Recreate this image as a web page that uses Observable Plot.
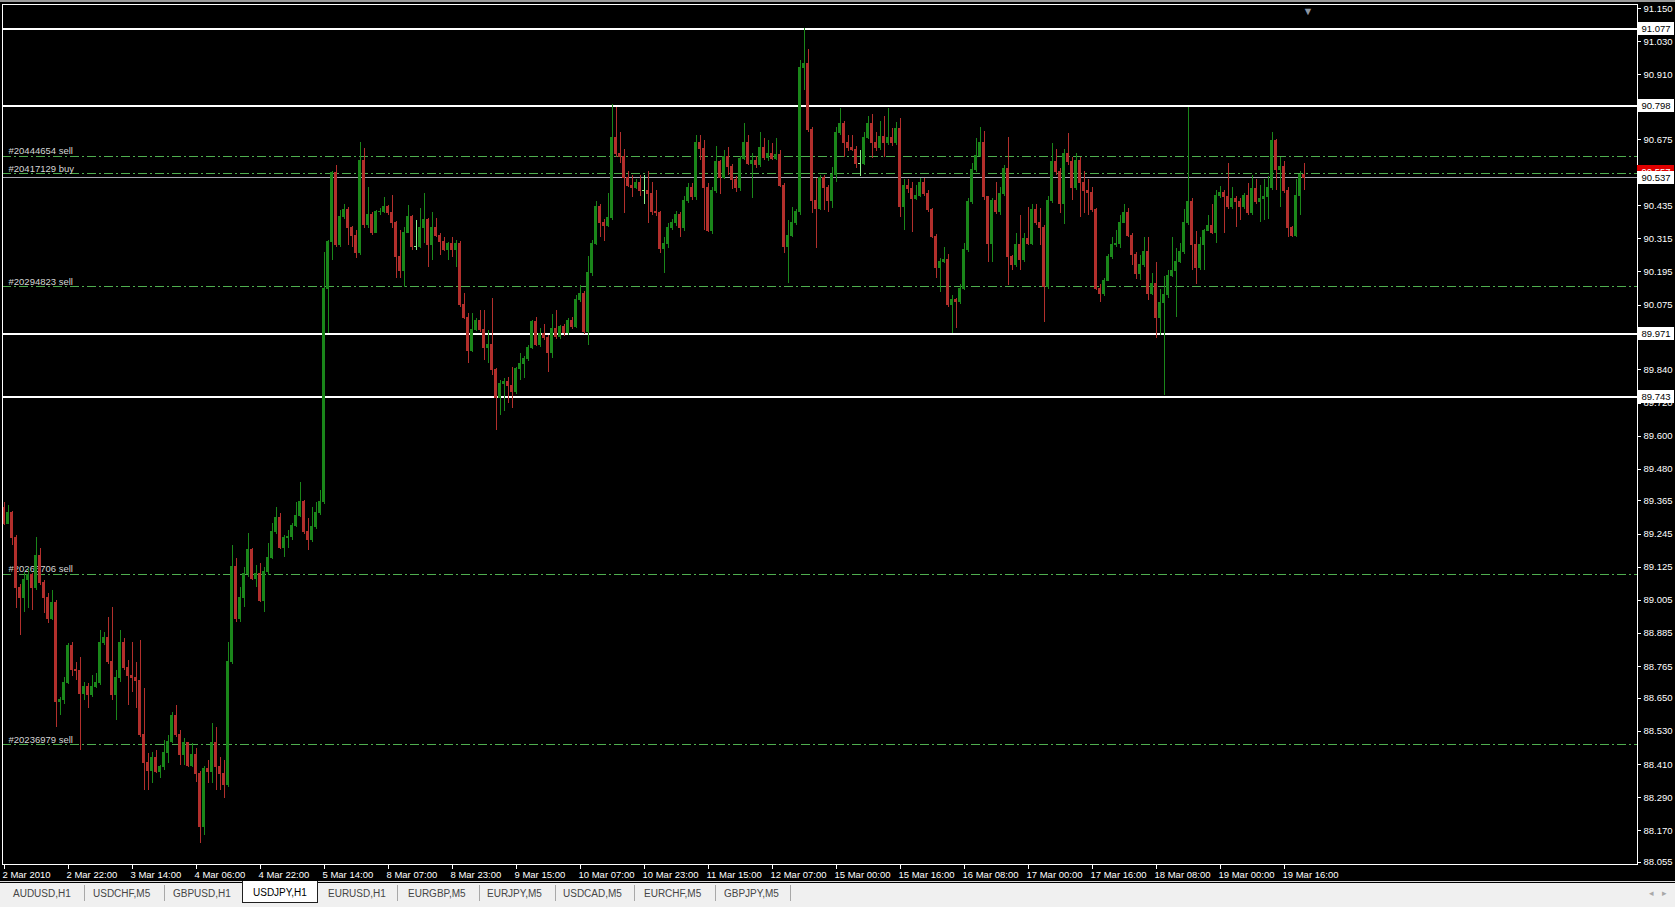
<!DOCTYPE html>
<html>
<head>
<meta charset="utf-8">
<title>USDJPY,H1</title>
<script src="https://cdn.jsdelivr.net/npm/d3@7"></script>
<script src="https://cdn.jsdelivr.net/npm/@observablehq/plot@0.6"></script>
<style>
  html, body { margin: 0; padding: 0; background: #000; width: 1675px; height: 907px; overflow: hidden; }
  #wrap { position: relative; width: 1675px; height: 907px; font-family: "Liberation Sans", Arial, sans-serif; }
  #edge { position: absolute; left: 0; top: 0; width: 1675px; height: 2px; background: #9a9a9a; z-index: 2; }
  #chart { position: absolute; left: 0; top: 0; }
  #chart svg line, #chart svg rect { shape-rendering: crispEdges; }
  #strip { position: absolute; left: 0; top: 881px; width: 1675px; height: 1px; background: #d8d8d8; }
  #tabs { position: absolute; left: 0; top: 883px; width: 1675px; height: 24px; background: #f0f0f0; }
  .tab { position: absolute; top: 0; height: 22px; line-height: 21px; font-size: 10px; color: #464646; white-space: nowrap; }
  .tab.active { top: -2px; background: #fff; color: #000; border: 1px solid #202020; border-top: none; height: 21px; line-height: 23px; padding: 0 10px; box-sizing: content-box; }
  .sep { position: absolute; top: 2px; width: 1px; height: 16px; background: #a8a8a8; }
  .arrow { position: absolute; top: 0; line-height: 21px; font-size: 9px; color: #a8a8a8; }
</style>
</head>
<body>
<div id="wrap">
  <div id="chart"></div>
  <div id="edge"></div>
  <div id="strip"></div>
  <div id="tabs"></div>
</div>
<script>
// USDJPY hourly bars, 2 Mar 2010 06:00 to 19 Mar 2010 21:00
const opens = [
  89.341,89.283,89.323,89.229,89.051,89.012,89.080,89.095,89.051,89.167,
  89.066,89.012,88.939,88.997,88.635,88.642,88.707,88.841,88.754,88.748,
  88.667,88.689,88.660,88.689,88.707,88.852,88.870,88.780,88.660,88.722,
  88.852,88.758,88.732,88.722,88.714,88.515,88.414,88.388,88.435,88.381,
  88.399,88.453,88.490,88.587,88.515,88.443,88.486,88.406,88.443,88.377,
  88.182,88.395,88.381,88.486,88.399,88.377,88.334,88.780,89.124,88.939,
  89.015,89.102,89.186,89.084,89.102,89.004,89.106,89.160,89.251,89.305,
  89.196,89.229,89.233,89.276,89.312,89.360,89.251,89.222,89.269,89.323,
  89.360,90.135,90.302,90.552,90.291,90.393,90.421,90.353,90.327,90.262,
  90.599,90.364,90.400,90.338,90.411,90.414,90.429,90.407,90.371,90.251,
  90.200,90.338,90.393,90.286,90.286,90.353,90.382,90.291,90.353,90.327,
  90.302,90.276,90.298,90.276,90.298,90.074,90.030,89.910,89.983,90.019,
  89.983,89.921,89.929,89.838,89.737,89.790,89.795,89.780,89.760,89.842,
  89.860,89.878,89.921,90.012,89.929,89.972,89.955,89.900,89.990,89.960,
  89.995,89.975,90.019,89.995,90.092,90.117,89.976,90.190,90.298,90.432,
  90.374,90.360,90.389,90.682,90.624,90.610,90.534,90.508,90.501,90.516,
  90.490,90.490,90.479,90.411,90.407,90.280,90.295,90.356,90.371,90.400,
  90.353,90.454,90.501,90.465,90.661,90.640,90.501,90.345,90.490,90.592,
  90.537,90.610,90.574,90.527,90.498,90.606,90.661,90.588,90.599,90.581,
  90.643,90.607,90.624,90.605,90.620,90.508,90.284,90.327,90.371,90.411,
  90.933,90.950,90.708,90.454,90.425,90.534,90.501,90.454,90.545,90.700,
  90.733,90.661,90.646,90.636,90.588,90.588,90.682,90.733,90.661,90.643,
  90.686,90.664,90.682,90.664,90.715,90.429,90.508,90.494,90.461,90.472,
  90.516,90.479,90.418,90.320,90.211,90.230,90.240,90.074,90.092,90.085,
  90.135,90.273,90.447,90.563,90.617,90.661,90.465,90.298,90.454,90.411,
  90.479,90.570,90.248,90.219,90.291,90.237,90.316,90.298,90.418,90.371,
  90.356,90.139,90.454,90.592,90.556,90.443,90.624,90.592,90.498,90.599,
  90.519,90.490,90.480,90.418,90.135,90.117,90.164,90.248,90.291,90.298,
  90.374,90.407,90.327,90.255,90.186,90.219,90.269,90.117,90.150,90.030,
  90.081,90.110,90.182,90.200,90.230,90.266,90.374,90.447,90.291,90.208,
  90.291,90.345,90.360,90.338,90.472,90.480,90.465,90.429,90.461,90.447,
  90.429,90.472,90.407,90.494,90.447,90.458,90.465,90.501,90.668,90.563,
  90.577,90.490,90.356,90.327,90.472,90.545
];
const highs = [
  89.360,89.349,89.327,89.240,89.062,89.106,89.120,89.102,89.233,89.193,
  89.077,89.030,89.041,89.004,88.653,88.725,88.848,88.852,88.780,88.798,
  88.707,88.703,88.732,88.740,88.896,88.888,88.943,88.979,88.751,88.896,
  88.867,88.787,88.852,88.780,88.859,88.685,88.450,88.453,88.461,88.406,
  88.497,88.515,88.598,88.624,88.533,88.504,88.490,88.486,88.468,88.385,
  88.403,88.425,88.558,88.544,88.435,88.425,88.852,89.204,89.157,89.051,
  89.124,89.247,89.193,89.131,89.138,89.124,89.211,89.283,89.341,89.320,
  89.240,89.258,89.283,89.360,89.432,89.367,89.301,89.341,89.360,89.403,
  90.266,90.309,90.560,90.581,90.418,90.440,90.430,90.360,90.345,90.664,
  90.643,90.501,90.411,90.418,90.425,90.465,90.436,90.472,90.378,90.345,
  90.356,90.436,90.400,90.382,90.425,90.479,90.389,90.411,90.389,90.335,
  90.320,90.302,90.320,90.309,90.305,90.117,90.045,90.045,90.026,90.055,
  90.055,89.983,90.099,89.845,89.800,89.810,89.812,89.850,89.850,89.900,
  89.890,89.930,90.020,90.030,89.990,90.005,89.965,90.040,90.055,90.000,
  90.005,90.025,90.030,90.110,90.145,90.125,90.250,90.310,90.450,90.440,
  90.385,90.480,90.802,90.790,90.700,90.640,90.560,90.545,90.530,90.545,
  90.545,90.560,90.520,90.490,90.415,90.320,90.370,90.385,90.415,90.410,
  90.470,90.515,90.515,90.690,90.690,90.672,90.515,90.500,90.650,90.600,
  90.636,90.646,90.585,90.540,90.615,90.733,90.690,90.625,90.615,90.700,
  90.680,90.672,90.660,90.680,90.635,90.515,90.380,90.430,90.420,90.962,
  91.077,91.000,90.720,90.534,90.545,90.545,90.510,90.573,90.720,90.788,
  90.740,90.690,90.690,90.650,90.635,90.700,90.760,90.765,90.700,90.740,
  90.760,90.788,90.715,90.735,90.751,90.530,90.530,90.520,90.510,90.535,
  90.535,90.490,90.425,90.330,90.245,90.283,90.260,90.110,90.100,90.150,
  90.300,90.460,90.590,90.680,90.719,90.705,90.470,90.460,90.520,90.500,
  90.580,90.682,90.255,90.335,90.400,90.335,90.430,90.440,90.440,90.425,
  90.365,90.470,90.660,90.640,90.570,90.640,90.697,90.610,90.625,90.610,
  90.560,90.530,90.500,90.425,90.150,90.170,90.260,90.320,90.345,90.400,
  90.440,90.425,90.335,90.265,90.255,90.320,90.320,90.190,90.230,90.130,
  90.180,90.200,90.320,90.280,90.300,90.420,90.791,90.460,90.340,90.320,
  90.350,90.400,90.440,90.490,90.505,90.490,90.590,90.500,90.470,90.460,
  90.480,90.515,90.544,90.530,90.510,90.530,90.540,90.700,90.675,90.610,
  90.595,90.500,90.360,90.530,90.560,90.590
];
const lows = [
  89.276,89.280,89.204,88.975,88.877,88.961,88.975,88.968,89.041,89.059,
  88.957,88.921,88.932,88.544,88.587,88.627,88.700,88.729,88.714,88.461,
  88.642,88.613,88.653,88.685,88.696,88.841,88.772,88.642,88.569,88.707,
  88.751,88.624,88.671,88.613,88.508,88.316,88.316,88.341,88.377,88.359,
  88.388,88.414,88.486,88.508,88.406,88.406,88.399,88.399,88.345,88.124,
  88.153,88.341,88.341,88.316,88.316,88.287,88.327,88.772,88.925,88.925,
  88.979,89.088,89.077,89.051,88.997,88.961,89.095,89.153,89.244,89.189,
  89.160,89.193,89.222,89.269,89.305,89.244,89.186,89.215,89.262,89.312,
  89.352,89.972,90.237,90.284,90.284,90.385,90.291,90.284,90.244,90.255,
  90.353,90.353,90.327,90.334,90.400,90.407,90.400,90.353,90.171,90.171,
  90.139,90.334,90.273,90.273,90.280,90.298,90.211,90.237,90.320,90.255,
  90.269,90.237,90.248,90.211,90.067,90.023,89.863,89.903,89.979,89.976,
  89.874,89.863,89.820,89.620,89.675,89.690,89.720,89.700,89.750,89.800,
  89.810,89.870,89.915,89.925,89.920,89.945,89.831,89.880,89.950,89.950,
  89.960,89.965,89.985,89.990,90.085,89.970,89.929,90.180,90.290,90.320,
  90.305,90.355,90.380,90.610,90.590,90.407,90.500,90.465,90.495,90.470,
  90.440,90.371,90.400,90.395,90.262,90.190,90.280,90.345,90.360,90.320,
  90.340,90.445,90.455,90.455,90.600,90.345,90.338,90.330,90.480,90.476,
  90.530,90.545,90.494,90.483,90.485,90.600,90.580,90.461,90.570,90.575,
  90.600,90.595,90.598,90.600,90.500,90.262,90.153,90.320,90.365,90.400,
  90.853,90.700,90.407,90.280,90.418,90.418,90.410,90.425,90.520,90.690,
  90.610,90.630,90.630,90.570,90.540,90.580,90.675,90.606,90.630,90.635,
  90.610,90.655,90.650,90.655,90.392,90.345,90.480,90.338,90.455,90.465,
  90.470,90.410,90.316,90.172,90.121,90.225,90.066,89.972,89.990,90.078,
  90.128,90.265,90.440,90.555,90.610,90.454,90.230,90.229,90.405,90.400,
  90.470,90.146,90.200,90.210,90.200,90.230,90.290,90.290,90.365,90.290,
  90.012,90.130,90.445,90.545,90.407,90.367,90.580,90.454,90.490,90.393,
  90.407,90.400,90.410,90.128,90.085,90.106,90.160,90.240,90.285,90.280,
  90.370,90.320,90.219,90.168,90.164,90.210,90.092,90.110,89.954,89.965,
  89.746,90.100,90.175,90.030,90.225,90.260,90.365,90.200,90.150,90.200,
  90.200,90.340,90.330,90.300,90.460,90.335,90.420,90.420,90.355,90.380,
  90.420,90.400,90.400,90.440,90.375,90.380,90.385,90.490,90.490,90.430,
  90.480,90.320,90.320,90.320,90.400,90.490
];
const closes = [
  89.283,89.323,89.229,89.051,89.012,89.080,89.095,89.051,89.167,89.066,
  89.012,88.939,88.997,88.635,88.642,88.707,88.841,88.754,88.748,88.667,
  88.689,88.660,88.689,88.707,88.852,88.870,88.780,88.660,88.722,88.852,
  88.758,88.732,88.722,88.714,88.515,88.414,88.388,88.435,88.381,88.399,
  88.453,88.490,88.587,88.515,88.443,88.486,88.406,88.443,88.377,88.182,
  88.395,88.381,88.486,88.399,88.377,88.334,88.780,89.124,88.939,89.015,
  89.102,89.186,89.084,89.102,89.004,89.106,89.160,89.251,89.305,89.196,
  89.229,89.233,89.276,89.312,89.360,89.251,89.222,89.269,89.323,89.360,
  90.135,90.302,90.552,90.291,90.393,90.421,90.353,90.327,90.262,90.599,
  90.364,90.400,90.338,90.411,90.414,90.429,90.407,90.371,90.251,90.200,
  90.338,90.393,90.284,90.286,90.353,90.382,90.291,90.353,90.327,90.302,
  90.276,90.298,90.276,90.298,90.074,90.030,89.910,89.983,90.019,89.983,
  89.921,89.929,89.838,89.737,89.790,89.795,89.780,89.760,89.842,89.860,
  89.878,89.921,90.012,89.929,89.972,89.955,89.900,89.990,89.960,89.995,
  89.975,90.019,89.995,90.092,90.117,89.976,90.190,90.298,90.432,90.374,
  90.360,90.389,90.682,90.624,90.610,90.534,90.508,90.501,90.516,90.490,
  90.490,90.479,90.411,90.407,90.280,90.295,90.356,90.371,90.400,90.353,
  90.454,90.501,90.465,90.661,90.640,90.501,90.345,90.490,90.592,90.537,
  90.610,90.574,90.527,90.498,90.606,90.661,90.588,90.599,90.581,90.643,
  90.607,90.624,90.605,90.620,90.508,90.284,90.327,90.371,90.411,90.933,
  90.950,90.708,90.454,90.425,90.534,90.501,90.454,90.545,90.700,90.733,
  90.661,90.646,90.636,90.588,90.588,90.682,90.733,90.661,90.643,90.686,
  90.664,90.682,90.664,90.715,90.429,90.508,90.494,90.461,90.472,90.516,
  90.479,90.418,90.320,90.211,90.230,90.240,90.074,90.092,90.085,90.135,
  90.273,90.447,90.563,90.617,90.661,90.465,90.298,90.454,90.411,90.479,
  90.570,90.248,90.219,90.291,90.237,90.316,90.298,90.418,90.371,90.356,
  90.139,90.454,90.592,90.556,90.443,90.624,90.592,90.498,90.599,90.519,
  90.490,90.480,90.418,90.135,90.117,90.164,90.248,90.291,90.298,90.374,
  90.407,90.327,90.255,90.186,90.219,90.269,90.117,90.150,90.030,90.081,
  90.110,90.182,90.200,90.230,90.266,90.374,90.447,90.291,90.208,90.291,
  90.345,90.360,90.338,90.472,90.480,90.465,90.429,90.461,90.447,90.429,
  90.472,90.407,90.494,90.447,90.458,90.465,90.501,90.668,90.563,90.577,
  90.490,90.356,90.327,90.472,90.545,90.537
];

// time axis: one label every 16 bars
const xTickIdx = [0,16,32,48,64,80,96,112,128,144,160,176,192,208,224,240,256,272,288,304,320];
const xTickText = ["2 Mar 2010","2 Mar 22:00","3 Mar 14:00","4 Mar 06:00","4 Mar 22:00","5 Mar 14:00",
  "8 Mar 07:00","8 Mar 23:00","9 Mar 15:00","10 Mar 07:00","10 Mar 23:00","11 Mar 15:00","12 Mar 07:00",
  "15 Mar 00:00","15 Mar 16:00","16 Mar 08:00","17 Mar 00:00","17 Mar 16:00","18 Mar 08:00",
  "19 Mar 00:00","19 Mar 16:00"];

// price scale labels (those not covered by the price tags)
const yTicks = [91.150,91.030,90.910,90.675,90.435,90.315,90.195,90.075,89.840,
  89.720,89.600,89.480,89.365,89.245,89.125,89.005,88.885,88.765,88.650,88.530,88.410,88.290,88.170,88.055];

// horizontal levels, current prices and open orders
const levelPrices = [91.077, 90.798, 89.971, 89.743];
const bidPrice = 90.537;
const askPrice = 90.557;
const orderTickets = ["#20444654 sell", "#20417129 buy", "#20294823 sell", "#20266706 sell", "#20236979 sell"];
const orderPrices = [90.614, 90.552, 90.142, 89.099, 88.482];

// terminal tabs
const tabNames = ["AUDUSD,H1","USDCHF,M5","GBPUSD,H1","USDJPY,H1","EURUSD,H1","EURGBP,M5","EURJPY,M5","USDCAD,M5","EURCHF,M5","GBPJPY,M5"];
const activeTab = "USDJPY,H1";

// ---- styling ----
const BULL = "#1a861a";
const BEAR = "#b22f2c";
const DOJI = "#8cf08c";
const ORDER = "#4fae4f";

// 4 px per bar; frame spans x 2..1637, y 4..864
const xDomain = [-0.375, 408.375];
const yDomain = [88.0474, 91.1645];
const xEnd = xDomain[1];
const yBottom = yDomain[0];

const bars = opens.map((o, i) => ({i, o, h: highs[i], l: lows[i], c: closes[i]}));
const tone = d => d.c > d.o ? BULL : d.c < d.o ? BEAR : DOJI;
const fmt = d => d.toFixed(3);

const chart = Plot.plot({
  width: 1675,
  height: 880,
  marginLeft: 2,
  marginRight: 38,
  marginTop: 4,
  marginBottom: 16,
  x: {domain: xDomain, axis: null},
  y: {domain: yDomain, axis: null},
  style: {
    background: "#000",
    color: "#fff",
    fontFamily: "'Liberation Sans', Arial, sans-serif",
    fontSize: "9.5px",
    overflow: "visible"
  },
  marks: [
    // order lines with their ticket labels
    Plot.ruleY(orderPrices, {y: d => d, stroke: ORDER, strokeDasharray: "9,3,2,3"}),
    Plot.text(orderPrices, {
      y: d => d, text: (d, i) => orderTickets[i], frameAnchor: "left",
      dx: 6, dy: -5, textAnchor: "start", fill: "#d6d6d6", fontSize: 9.5
    }),
    // horizontal levels and bid line
    Plot.ruleY(levelPrices, {y: d => d, stroke: "#fff", strokeWidth: 2}),
    Plot.ruleY([bidPrice], {y: d => d, stroke: "#a9a9b4"}),
    // candles
    Plot.ruleX(bars, {x: "i", y1: "l", y2: "h", stroke: tone}),
    Plot.rect(bars, {
      x1: d => d.i - 0.375, x2: d => d.i + 0.375, y1: "o", y2: "c",
      fill: tone, insetTop: -0.5, insetBottom: -0.5
    }),
    Plot.frame({stroke: "#fff"}),
    // time axis
    Plot.ruleX(xTickIdx, {x: d => d, y1: () => yBottom, y2: () => yBottom, insetBottom: -5, stroke: "#fff"}),
    Plot.text(xTickIdx, {
      x: d => d, y: () => yBottom, text: (d, i) => xTickText[i],
      dx: -1.5, dy: 10, textAnchor: "start", fill: "#fff", fontSize: 9.5
    }),
    // price axis
    Plot.ruleY(yTicks, {y: d => d, x1: () => xEnd, x2: () => xEnd, insetRight: -4, stroke: "#fff"}),
    Plot.text(yTicks, {
      x: () => xEnd, y: d => d, text: fmt, dx: 6, textAnchor: "start", fill: "#fff", fontSize: 9.5
    }),
    // price tags on the scale
    Plot.rect([askPrice], {
      x1: () => xEnd, x2: () => xEnd, y1: d => d, y2: d => d,
      insetRight: -37, insetTop: -6.5, insetBottom: -6.5, fill: "#e00000"
    }),
    Plot.text([askPrice], {x: () => xEnd, y: d => d, text: fmt, dx: 4, textAnchor: "start", fill: "#fff", fontSize: 9.5}),
    Plot.rect([...levelPrices, bidPrice], {
      x1: () => xEnd, x2: () => xEnd, y1: d => d, y2: d => d,
      insetRight: -37, insetTop: -6.5, insetBottom: -6.5, fill: "#fff"
    }),
    Plot.text([...levelPrices, bidPrice], {x: () => xEnd, y: d => d, text: fmt, dx: 4, textAnchor: "start", fill: "#000", fontSize: 9.5}),
    // chart shift marker above the next bar
    Plot.text([closes.length], {x: d => d, frameAnchor: "top", text: () => "\u25BC", dy: 3, fill: "#8c96a2", fontSize: 11})
  ]
});
document.getElementById("chart").appendChild(chart);

// tab strip
const tabs = document.getElementById("tabs");
const tabLeft = [13, 93, 173, 242, 328, 408, 487, 563, 644, 724];
const sepLeft = [84, 164, 397, 479, 555, 634, 715, 790];
tabNames.forEach((name, k) => {
  const el = document.createElement("div");
  el.className = "tab" + (name === activeTab ? " active" : "");
  el.style.left = tabLeft[k] + "px";
  el.textContent = name;
  tabs.appendChild(el);
});
sepLeft.forEach(x => {
  const s = document.createElement("div");
  s.className = "sep";
  s.style.left = x + "px";
  tabs.appendChild(s);
});
[["\u25C2", 1649], ["\u25B8", 1662]].forEach(([ch, x]) => {
  const a = document.createElement("div");
  a.className = "arrow";
  a.style.left = x + "px";
  a.textContent = ch;
  tabs.appendChild(a);
});
</script>
</body>
</html>
